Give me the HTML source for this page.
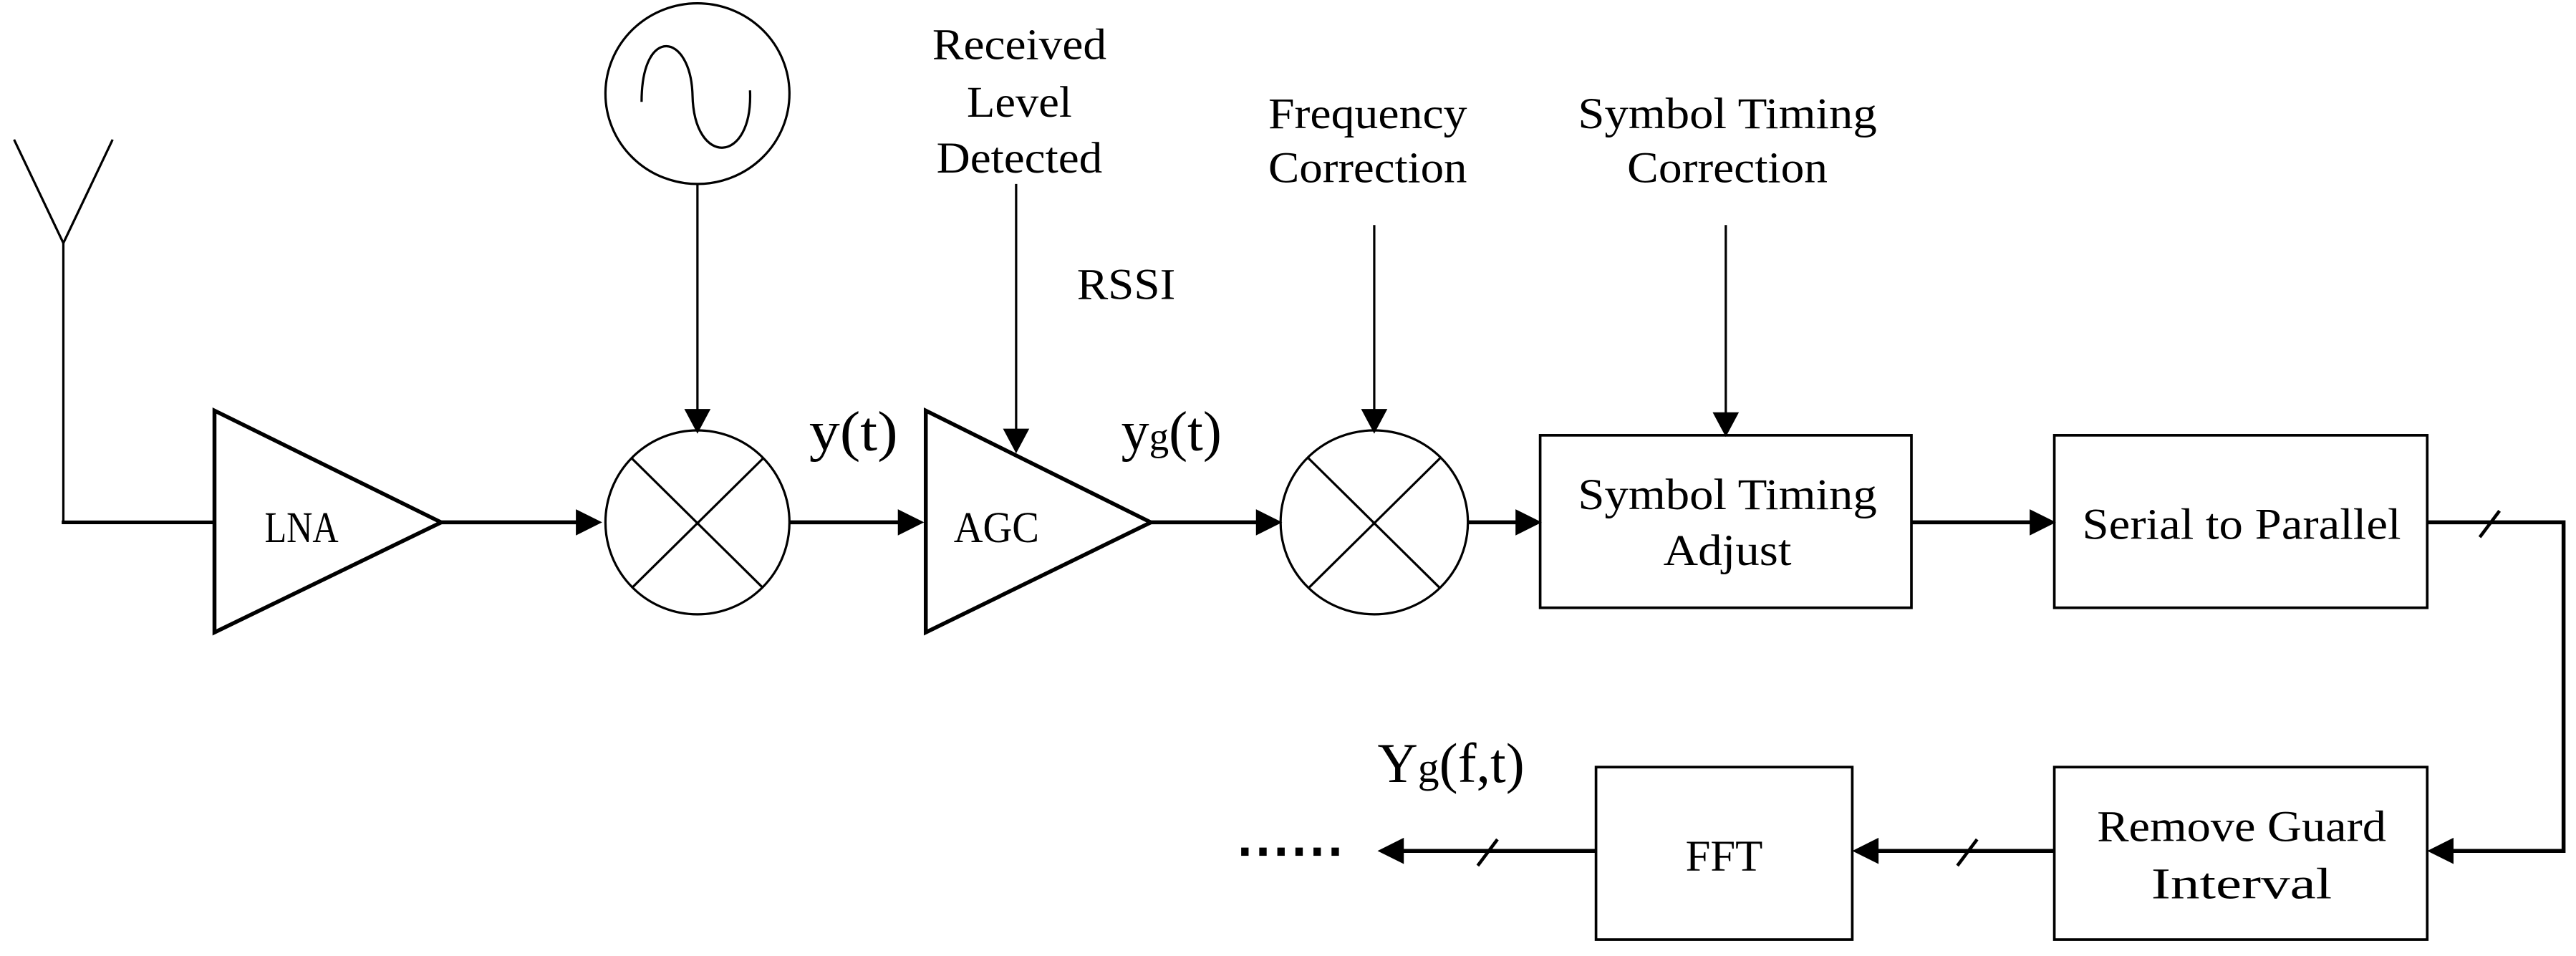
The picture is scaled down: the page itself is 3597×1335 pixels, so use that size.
<!DOCTYPE html>
<html><head><meta charset="utf-8"><style>
html,body{margin:0;padding:0;background:#fff;}
svg{display:block;}
text{font-family:"Liberation Serif",serif;fill:#000;}
</style></head><body>
<svg width="3597" height="1335" viewBox="0 0 1567 582" xmlns="http://www.w3.org/2000/svg">
<g fill="none" stroke="#000">
<polyline points="8,85 38,148 68,85" stroke-width="1.4"/>
<line x1="38" y1="148" x2="38" y2="318" stroke-width="1.4"/>
<line x1="37" y1="318" x2="130" y2="318" stroke-width="2.2"/>
<polygon points="130,250 130,385 268,318" stroke-width="2.4"/>
<line x1="268" y1="318" x2="352" y2="318" stroke-width="2.4"/>
<ellipse cx="424" cy="57" rx="56" ry="55" stroke-width="1.4"/>
<path d="M390,62 C390,15 420,20 421,58 C422,102 458,100 456,55" stroke-width="1.4"/>
<line x1="424" y1="112" x2="424" y2="250" stroke-width="1.4"/>
<ellipse cx="424" cy="318" rx="56" ry="56" stroke-width="1.4"/>
<line x1="384" y1="279" x2="464" y2="358" stroke-width="1.4"/>
<line x1="464" y1="279" x2="384" y2="358" stroke-width="1.4"/>
<line x1="480" y1="318" x2="548" y2="318" stroke-width="2.4"/>
<polygon points="563,250 563,385 700,318" stroke-width="2.4"/>
<line x1="618" y1="112" x2="618" y2="262" stroke-width="1.4"/>
<line x1="700" y1="318" x2="766" y2="318" stroke-width="2.4"/>
<ellipse cx="836" cy="318" rx="57" ry="56" stroke-width="1.4"/>
<line x1="796" y1="279" x2="876" y2="358" stroke-width="1.4"/>
<line x1="876" y1="279" x2="796" y2="358" stroke-width="1.4"/>
<line x1="836" y1="137" x2="836" y2="250" stroke-width="1.4"/>
<line x1="893" y1="318" x2="925" y2="318" stroke-width="2.4"/>
<rect x="937" y="265" width="226" height="105" stroke-width="1.6"/>
<line x1="1050" y1="137" x2="1050" y2="252" stroke-width="1.4"/>
<line x1="1163" y1="318" x2="1238" y2="318" stroke-width="2.4"/>
<rect x="1250" y="265" width="227" height="105" stroke-width="1.6"/>
<polyline points="1477,318 1560,318 1560,518 1492,518" stroke-width="2.4"/>
<line x1="1509" y1="327" x2="1521" y2="311" stroke-width="2"/>
<rect x="1250" y="467" width="227" height="105" stroke-width="1.6"/>
<line x1="1250" y1="518" x2="1141" y2="518" stroke-width="2.4"/>
<line x1="1191" y1="527" x2="1203" y2="511" stroke-width="2"/>
<rect x="971" y="467" width="156" height="105" stroke-width="1.6"/>
<line x1="971" y1="518" x2="852" y2="518" stroke-width="2.4"/>
<line x1="899" y1="527" x2="911" y2="511" stroke-width="2"/>
</g>
<g fill="#000">
<polygon points="366,318 350,310 350,326"/>
<polygon points="424,264 416,249 432,249"/>
<polygon points="562,318 546,310 546,326"/>
<polygon points="618,276 610,261 626,261"/>
<polygon points="780,318 764,310 764,326"/>
<polygon points="836,264 828,249 844,249"/>
<polygon points="938,318 922,310 922,326"/>
<polygon points="1050,266 1042,251 1058,251"/>
<polygon points="1251,318 1235,310 1235,326"/>
<polygon points="1477,518 1493,510 1493,526"/>
<polygon points="1127,518 1143,510 1143,526"/>
<polygon points="838,518 854,510 854,526"/>
<rect x="755" y="516" width="4.5" height="5"/><rect x="766" y="516" width="4.5" height="5"/><rect x="777" y="516" width="4.5" height="5"/><rect x="788" y="516" width="4.5" height="5"/><rect x="799" y="516" width="4.5" height="5"/><rect x="810" y="516" width="4.5" height="5"/>
</g>
<g font-size="27" text-anchor="middle">
<text x="620" y="36" textLength="106" lengthAdjust="spacingAndGlyphs">Received</text>
<text x="620" y="71" textLength="64" lengthAdjust="spacingAndGlyphs">Level</text>
<text x="620" y="105" textLength="101" lengthAdjust="spacingAndGlyphs">Detected</text>
<text x="685" y="182" textLength="60" lengthAdjust="spacingAndGlyphs">RSSI</text>
<text x="832" y="78" textLength="121" lengthAdjust="spacingAndGlyphs">Frequency</text>
<text x="832" y="111" textLength="121" lengthAdjust="spacingAndGlyphs">Correction</text>
<text x="1051" y="78" textLength="182" lengthAdjust="spacingAndGlyphs">Symbol Timing</text>
<text x="1051" y="111" textLength="122" lengthAdjust="spacingAndGlyphs">Correction</text>
<text x="1051" y="310" textLength="182" lengthAdjust="spacingAndGlyphs">Symbol Timing</text>
<text x="1051" y="344" textLength="78" lengthAdjust="spacingAndGlyphs">Adjust</text>
<text x="1364" y="328" textLength="194" lengthAdjust="spacingAndGlyphs">Serial to Parallel</text>
<text x="1364" y="512" textLength="176" lengthAdjust="spacingAndGlyphs">Remove Guard</text>
<text x="1364" y="547" textLength="110" lengthAdjust="spacingAndGlyphs">Interval</text>
<text x="1049" y="530" textLength="47" lengthAdjust="spacingAndGlyphs">FFT</text>
<text x="183" y="330" textLength="45" lengthAdjust="spacingAndGlyphs">LNA</text>
<text x="606" y="330" textLength="52" lengthAdjust="spacingAndGlyphs">AGC</text>
</g>
<g font-size="34">
<text x="492" y="274" textLength="54" lengthAdjust="spacingAndGlyphs">y(t)</text>
<text x="682" y="274">y<tspan font-size="24">g</tspan>(t)</text>
<text x="838" y="476">Y<tspan font-size="26">g</tspan>(f,t)</text>
</g>
</svg>
</body></html>
